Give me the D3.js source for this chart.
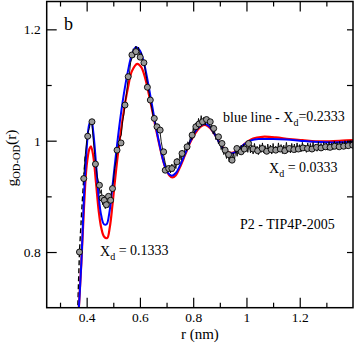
<!DOCTYPE html>
<html>
<head>
<meta charset="utf-8">
<script src="https://cdn.jsdelivr.net/npm/d3@7"></script>
<style>
  body { margin: 0; background: #fff; }
  svg { display: block; font-family: "Liberation Serif", "Times New Roman", serif; }
  .tick line { stroke: #000; stroke-width: 1.2; }
</style>
</head>
<body>
<svg width="354" height="344"></svg>
<script>
// x / y ticks
const xMajor = [0.4, 0.6, 0.8, 1, 1.2]
const xMinor = [0.3, 0.5, 0.7, 0.9, 1.1, 1.3]
const yMajor = [0.8, 1, 1.2]
const yMinor = [0.9, 1.1]

// model curves (r, g)
const blueLine = [
  [0.366, 0.66], [0.380, 0.78], [0.390, 0.90], [0.400, 0.985], [0.410, 1.030], [0.418, 1.036],
  [0.425, 1.015], [0.435, 0.96], [0.445, 0.90], [0.455, 0.865], [0.465, 0.850], [0.475, 0.850],
  [0.485, 0.870], [0.495, 0.910], [0.510, 0.975], [0.525, 1.035], [0.540, 1.085], [0.555, 1.125],
  [0.570, 1.155], [0.585, 1.168], [0.600, 1.162], [0.615, 1.140], [0.630, 1.105], [0.645, 1.065],
  [0.660, 1.025], [0.675, 0.990], [0.690, 0.960], [0.705, 0.942], [0.720, 0.937], [0.735, 0.942],
  [0.750, 0.955], [0.770, 0.977], [0.790, 1.000], [0.810, 1.018], [0.830, 1.028], [0.845, 1.030],
  [0.860, 1.026], [0.880, 1.012], [0.900, 0.995], [0.920, 0.982], [0.940, 0.977], [0.960, 0.980],
  [0.990, 0.993], [1.020, 1.001], [1.050, 1.003], [1.100, 1.003], [1.150, 1.002], [1.200, 1.000],
  [1.250, 0.998], [1.300, 0.997], [1.350, 0.997], [1.400, 0.998]
]
const redLine = [
  [0.366, 0.66], [0.380, 0.78], [0.390, 0.88], [0.400, 0.955], [0.410, 0.985], [0.416, 0.990],
  [0.425, 0.972], [0.435, 0.925], [0.445, 0.875], [0.455, 0.843], [0.465, 0.828], [0.477, 0.825],
  [0.487, 0.845], [0.497, 0.885], [0.510, 0.945], [0.525, 1.005], [0.540, 1.055], [0.555, 1.095],
  [0.570, 1.125], [0.590, 1.138], [0.605, 1.132], [0.620, 1.112], [0.635, 1.080], [0.650, 1.045],
  [0.665, 1.010], [0.680, 0.978], [0.695, 0.952], [0.710, 0.938], [0.722, 0.934], [0.735, 0.938],
  [0.750, 0.952], [0.770, 0.975], [0.790, 0.998], [0.810, 1.015], [0.830, 1.026], [0.848, 1.028],
  [0.865, 1.022], [0.885, 1.008], [0.905, 0.992], [0.925, 0.981], [0.945, 0.978], [0.965, 0.982],
  [0.995, 0.995], [1.025, 1.004], [1.060, 1.007], [1.110, 1.006], [1.160, 1.003], [1.210, 1.001],
  [1.260, 0.999], [1.310, 0.999], [1.360, 1.000], [1.400, 1.001]
]

// simulation: dashed start, noisy trace, circles
const blackStart = [[0.366, 0.69], [0.373, 0.80], [0.381, 0.87], [0.389, 0.932], [0.395, 0.975]]
const blackLine = [
  [0.39,0.94],[0.395,0.975],[0.40,1.00],[0.405,1.015],[0.41,1.022],[0.415,1.035],[0.42,1.028],
  [0.425,1.00],[0.43,0.975],[0.435,0.955],[0.44,0.935],[0.445,0.925],[0.45,0.905],[0.455,0.912],
  [0.46,0.885],[0.465,0.900],[0.47,0.878],[0.475,0.895],[0.48,0.880],[0.485,0.903],[0.49,0.890],
  [0.495,0.915],[0.50,0.925],[0.505,0.950],[0.51,0.962],[0.515,0.985],[0.52,0.990],[0.525,1.005],
  [0.53,1.010],[0.535,1.035],[0.54,1.048],[0.545,1.070],[0.55,1.085],[0.555,1.110],[0.56,1.118],
  [0.565,1.140],[0.57,1.148],[0.575,1.165],[0.58,1.150],[0.585,1.170],[0.59,1.155],[0.595,1.168],
  [0.60,1.150],[0.605,1.158],[0.61,1.140],[0.615,1.145],[0.62,1.125],[0.625,1.112],[0.63,1.096],
  [0.635,1.085],[0.64,1.068],[0.645,1.058],[0.65,1.042],[0.655,1.040],[0.66,1.028],[0.665,1.030],
  [0.67,1.015],[0.675,1.018],[0.68,0.998],[0.685,0.985],[0.69,0.972],[0.695,0.960],[0.70,0.952],
  [0.705,0.945],[0.71,0.955],[0.715,0.942],[0.72,0.958],[0.725,0.945],[0.73,0.962],[0.735,0.950],
  [0.74,0.968],[0.745,0.958],[0.75,0.975],[0.755,0.965],[0.76,0.982],[0.765,0.972],[0.77,0.990],
  [0.775,0.982],[0.78,0.998],[0.785,0.992],[0.79,1.010],[0.795,1.002],[0.80,1.022],[0.805,1.012],
  [0.81,1.032],[0.815,1.020],[0.82,1.040],[0.825,1.026],[0.83,1.045],[0.835,1.030],[0.84,1.042],
  [0.845,1.028],[0.85,1.040],[0.855,1.030],[0.86,1.036],[0.865,1.022],[0.87,1.028],[0.875,1.012],
  [0.88,1.018],[0.885,1.002],[0.89,1.008],[0.895,0.994],[0.90,0.998],[0.905,0.984],[0.91,0.990],
  [0.915,0.975],[0.92,0.982],[0.925,0.968],[0.93,0.978],[0.935,0.962],[0.94,0.975],[0.945,0.960],
  [0.95,0.978],[0.955,0.965],[0.96,0.985],[0.965,0.972],[0.97,0.990],[0.975,0.976],[0.98,0.992],
  [0.985,0.978],[0.99,0.994],[0.995,0.980],[1.00,0.996],[1.005,0.979],[1.01,0.994],[1.015,0.978],
  [1.02,0.992],[1.025,0.976],[1.03,0.995],[1.035,0.980],[1.04,0.990],[1.045,0.975],[1.05,0.993],
  [1.055,0.979],[1.06,0.996],[1.065,0.978],[1.07,0.991],[1.075,0.977],[1.08,0.994],[1.085,0.980],
  [1.09,0.992],[1.095,0.976],[1.10,0.995],[1.105,0.981],[1.11,0.990],[1.115,0.978],[1.12,0.996],
  [1.125,0.980],[1.13,0.993],[1.135,0.977],[1.14,0.992],[1.145,0.981],[1.15,0.997],[1.155,0.979],
  [1.16,0.991],[1.165,0.978],[1.17,0.995],[1.175,0.982],[1.18,0.994],[1.185,0.979],[1.19,0.996],
  [1.195,0.981],[1.20,0.993],[1.205,0.980],[1.21,0.997],[1.215,0.982],[1.22,0.992],[1.225,0.979],
  [1.23,0.996],[1.235,0.983],[1.24,0.995],[1.245,0.980],[1.25,0.997],[1.255,0.983],[1.26,0.994],
  [1.265,0.981],[1.27,0.998],[1.275,0.984],[1.28,0.995],[1.285,0.982],[1.29,0.997],[1.295,0.984],
  [1.30,0.996],[1.305,0.983],[1.31,0.998],[1.315,0.985],[1.32,0.996],[1.325,0.984],[1.33,0.999],
  [1.335,0.985],[1.34,0.997],[1.345,0.986],[1.35,0.999],[1.355,0.986],[1.36,0.998],[1.365,0.987],
  [1.37,1.000],[1.375,0.987],[1.38,0.999],[1.385,0.988],[1.39,1.000],[1.395,0.988],[1.40,0.998]
]
const circles = [
  [0.373,0.800],[0.389,0.932],[0.404,1.008],[0.420,1.034],[0.433,0.958],[0.448,0.920],[0.458,0.897],
  [0.466,0.893],[0.474,0.885],[0.482,0.900],[0.490,0.893],[0.497,0.914],[0.514,0.983],[0.529,0.996],
  [0.544,1.064],[0.556,1.115],[0.570,1.154],[0.585,1.160],[0.601,1.150],[0.615,1.140],[0.628,1.096],
  [0.639,1.073],[0.654,1.040],[0.664,1.025],[0.676,1.019],[0.689,0.980],[0.695,0.947],[0.708,0.950],
  [0.720,0.950],[0.739,0.962],[0.758,0.977],[0.777,0.989],[0.796,1.010],[0.810,1.025],[0.822,1.030],
  [0.835,1.034],[0.850,1.038],[0.864,1.034],[0.877,1.022],[0.895,1.007],[0.908,0.995],[0.920,0.983],
  [0.933,0.975],[0.946,0.965],[0.964,0.986],[0.980,0.980],[0.992,0.985],[1.008,0.995],[1.025,0.985],
  [1.042,0.982],[1.059,0.986],[1.076,0.981],[1.093,0.984],[1.110,0.983],[1.127,0.985],[1.144,0.982],
  [1.161,0.986],[1.178,0.984],[1.195,0.985],[1.212,0.987],[1.229,0.986],[1.246,0.985],[1.263,0.988],
  [1.280,0.987],[1.297,0.989],[1.314,0.988],[1.331,0.990],[1.348,0.989],[1.365,0.990],[1.382,0.991],
  [1.399,0.992]
]

const serif = '"Liberation Serif", "Times New Roman", serif'
    , plotLeft = 46.7
    , plotRight = 353
    , plotTop = 1.5
    , plotBottom = 307.7
    , x = d3.scaleLinear().domain([0.25, 1.4]).range([plotLeft, plotRight])
    , y = d3.scaleLinear().domain([0.7, 1.25]).range([plotBottom, plotTop])
    , svg = d3.select('svg')

svg.append('clipPath').attr('id', 'plot-clip')
  .append('rect')
  .attr('x', plotLeft).attr('y', plotTop)
  .attr('width', plotRight - plotLeft).attr('height', plotBottom - plotTop)

const line = d3.line().x(d => x(d[0])).y(d => y(d[1]))
const smooth = d3.line().x(d => x(d[0])).y(d => y(d[1])).curve(d3.curveCatmullRom)

const plot = svg.append('g').attr('clip-path', 'url(#plot-clip)')

plot.append('path').datum(blackStart)
  .attr('d', line).attr('fill', 'none')
  .attr('stroke', '#000').attr('stroke-width', 1.4).attr('stroke-dasharray', '5,3')

plot.append('path').datum(redLine)
  .attr('d', smooth).attr('fill', 'none')
  .attr('stroke', '#ff0000').attr('stroke-width', 2.2)

plot.append('path').datum(blueLine)
  .attr('d', smooth).attr('fill', 'none')
  .attr('stroke', '#0000ff').attr('stroke-width', 2)

plot.append('path').datum(blackLine)
  .attr('d', line).attr('fill', 'none')
  .attr('stroke', '#000').attr('stroke-width', 0.9)

plot.selectAll('circle.sim')
  .data(circles)
  .join('circle')
  .attr('class', 'sim')
  .attr('cx', d => x(d[0]))
  .attr('cy', d => y(d[1]))
  .attr('r', 3)
  .attr('fill', '#999')
  .attr('stroke', '#000')
  .attr('stroke-width', 0.9)

// axes: ticks point inward on all four sides
const fmt = d => d3.format('~g')(d)
const addAxis = (axis, tx, ty, labels) => {
  const g = svg.append('g').attr('transform', `translate(${tx},${ty})`).call(axis)
    .attr('font-family', serif).attr('font-size', 13.5)
  g.select('.domain').remove()
  if (!labels) g.selectAll('text').remove()
  return g
}
addAxis(d3.axisBottom(x).tickValues(xMajor).tickSize(-10).tickPadding(5).tickFormat(fmt), 0, plotBottom, true)
addAxis(d3.axisBottom(x).tickValues(xMinor).tickSize(-5), 0, plotBottom, false)
addAxis(d3.axisTop(x).tickValues(xMajor).tickSize(-10), 0, plotTop, false)
addAxis(d3.axisTop(x).tickValues(xMinor).tickSize(-5), 0, plotTop, false)
addAxis(d3.axisLeft(y).tickValues(yMajor).tickSize(-10).tickPadding(6).tickFormat(fmt), plotLeft, 0, true)
addAxis(d3.axisLeft(y).tickValues(yMinor).tickSize(-5), plotLeft, 0, false)
addAxis(d3.axisRight(y).tickValues(yMajor).tickSize(-6), plotRight, 0, false)
addAxis(d3.axisRight(y).tickValues(yMinor).tickSize(-6), plotRight, 0, false)

svg.append('rect')
  .attr('x', plotLeft).attr('y', plotTop)
  .attr('width', plotRight - plotLeft).attr('height', plotBottom - plotTop)
  .attr('fill', 'none').attr('stroke', '#000').attr('stroke-width', 1.5)

// axis titles
svg.append('text')
  .attr('x', (plotLeft + plotRight) / 2).attr('y', 338.5)
  .attr('text-anchor', 'middle').attr('font-size', 15)
  .text('r (nm)')

const yt = svg.append('text')
  .attr('transform', 'translate(17,158) rotate(-90)')
  .attr('text-anchor', 'middle').attr('font-size', 15.5)
yt.append('tspan').text('g')
yt.append('tspan').attr('font-size', 10.5).attr('dy', '0.3em').text('OD-OD')
yt.append('tspan').attr('dy', '-0.3em').text('(r)')

// annotations
const withSub = (tx, ty, pre, sub, post) => {
  const t = svg.append('text').attr('x', tx).attr('y', ty).attr('font-size', 14)
  t.append('tspan').text(pre)
  t.append('tspan').attr('font-size', 10).attr('dy', '0.35em').text(sub)
  t.append('tspan').attr('dy', '-0.35em').text(post)
  return t
}
svg.append('text').attr('x', 64).attr('y', 30).attr('font-size', 18).text('b')
withSub(223, 122, 'blue line - X', 'd', '=0.2333')
withSub(269, 173, 'X', 'd', ' = 0.0333')
svg.append('text').attr('x', 240).attr('y', 229).attr('font-size', 14).text('P2 - TIP4P-2005')
withSub(100, 256, 'X', 'd', ' = 0.1333')
</script>
</body>
</html>
